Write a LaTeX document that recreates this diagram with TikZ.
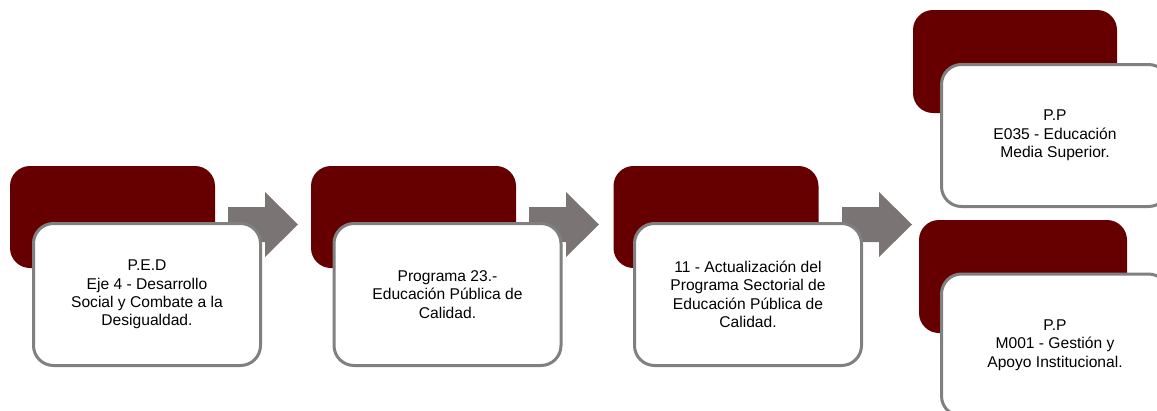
\documentclass[tikz,border=0pt]{standalone}
\usepackage{fontspec}
\setmainfont{Liberation Sans}
\begin{document}
\begin{tikzpicture}[x=1pt,y=-1pt,
  darkbox/.style={rectangle, rounded corners=20pt, fill=darkred, draw=none, inner sep=0pt},
  whitebox/.style={rectangle, rounded corners=20pt, fill=white, draw=bordergray, line width=3pt, inner sep=0pt, minimum width=227pt, minimum height=142pt},
  label/.style={align=center, font=\fontsize{15.6pt}{18.4pt}\selectfont, text=black},
  chevron/.style={fill=arrowgray, draw=none}]
\definecolor{darkred}{HTML}{660000}
\definecolor{bordergray}{HTML}{808080}
\definecolor{arrowgray}{HTML}{7A7574}
\useasboundingbox (0,0) rectangle (1157,410);
\clip (0,0) rectangle (1157,410);
% arrows (behind boxes)
\foreach \o in {0,301,614}{
  \fill[chevron] (228+\o,207) -- (265+\o,207) -- (265+\o,192) -- (298+\o,224.5) -- (265+\o,257) -- (265+\o,242) -- (228+\o,242) -- cycle;
}
% group 1
\node[darkbox, minimum width=205pt, minimum height=102pt] (d1) at (112.5,217) {};
\node[whitebox] (w1) at (147,294.5) {};
\node[label] (t1) at (w1.center) {P.E.D\\Eje 4 - Desarrollo\\Social y Combate a la\\Desigualdad.};
% group 2
\node[darkbox, minimum width=205pt, minimum height=102pt] (d2) at (413.5,217) {};
\node[whitebox] (w2) at (447.5,294.5) {};
\node[label] (t2) at (w2.center) {Programa 23.-\\Educación Pública de\\Calidad.};
% group 3
\node[darkbox, minimum width=205pt, minimum height=102pt] (d3) at (716,217) {};
\node[whitebox] (w3) at (748,294.5) {};
\node[label] (t3) at (w3.center) {11 - Actualización del\\Programa Sectorial de\\Educación Pública de\\Calidad.};
% right top
\node[darkbox, minimum width=204pt, minimum height=103pt] (d4) at (1015,61.5) {};
\node[whitebox] (w4) at (1055,135.5) {};
\node[label] (t4) at (w4.center) {P.P\\E035 - Educación\\Media Superior.};
% right bottom
\node[darkbox, minimum width=208pt, minimum height=113pt] (d5) at (1023,276.5) {};
\node[whitebox] (w5) at (1055,345) {};
\node[label] (t5) at (w5.center) {P.P\\M001 - Gestión y\\Apoyo Institucional.};
\end{tikzpicture}
\end{document}
